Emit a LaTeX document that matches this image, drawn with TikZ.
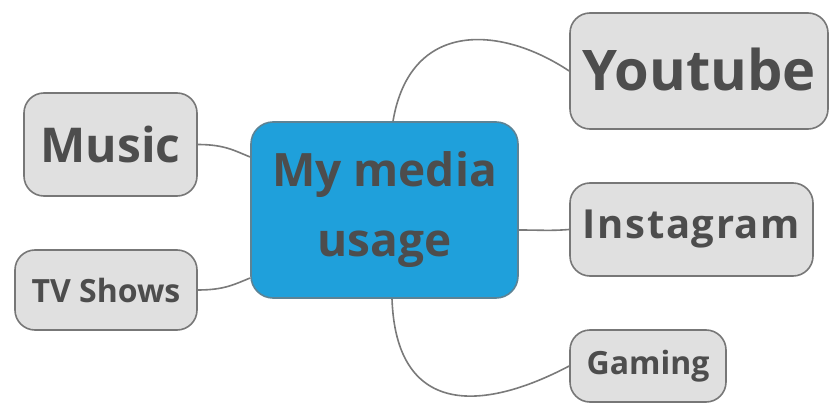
\documentclass[tikz,border=0pt]{standalone}
\usepackage{fontspec}
\setmainfont{Open Sans}
\usetikzlibrary{calc}
\definecolor{txt}{HTML}{4D4D4D}
\definecolor{boxfill}{HTML}{E0E0E0}
\definecolor{boxline}{HTML}{777777}
\definecolor{centerfill}{HTML}{1FA0DB}
\definecolor{linkcol}{HTML}{7A7A7A}
\begin{document}
\begin{tikzpicture}[x=1pt,y=1pt,
  topic/.style={draw=boxline, line width=1.6pt, fill=boxfill, rounded corners=20pt,
    text=txt, inner sep=0pt, align=center},
  centre/.style={draw=boxline!70!centerfill, line width=1.6pt, fill=centerfill, rounded corners=22pt,
    text=txt, inner sep=0pt, align=center},
  link/.style={draw=linkcol, line width=1.6pt}]
\useasboundingbox (0,0) rectangle (830,405);
\fill[white] (0,0) rectangle (830,405);
% nodes
\node[centre, minimum width=267pt, minimum height=176pt,
  font={\fontsize{46}{70}\selectfont\bfseries}] (c) at (384.5,195)
  {My media\\usage};
\node[topic, minimum width=173pt, minimum height=103pt,
  font={\fontsize{48}{50}\selectfont\bfseries}] (music) at (110.5,260.5) {Music};
\node[topic, minimum width=182pt, minimum height=80pt,
  font={\fontsize{32}{34}\selectfont\bfseries}] (tv) at (106,115) {TV Shows};
\node[topic, minimum width=258pt, minimum height=116pt,
  font={\fontsize{56}{58}\selectfont\bfseries}] (yt) at (699,334) {\raisebox{3pt}{Youtube}};
\node[topic, minimum width=243pt, minimum height=93pt,
  font={\fontsize{40}{44}\selectfont\bfseries\addfontfeature{LetterSpace=4}}] (ig) at (691.5,175.5) {Instagram};
\node[topic, minimum width=156pt, minimum height=72pt,
  font={\fontsize{32}{36}\selectfont\bfseries}] (gm) at (648,39) {Gaming};
% connectors
\path[link] (music.east) .. controls (225,260.5) and (235,254) .. ($(c.west)+(0,53)$);
\path[link] (tv.east) .. controls (225,115) and (235,121) .. ($(c.west)+(0,-68)$);
\path[link] ($(c.north)+(8.5,0)$) .. controls (410,385) and (500,380) .. (yt.west);
\path[link] ($(c.east)+(0,-20)$) .. controls (540,175) and (550,174) .. (ig.west);
\path[link] ($(c.south)+(7.5,0)$) .. controls (396,-10) and (480,-8) .. (gm.west);
\end{tikzpicture}
\end{document}
